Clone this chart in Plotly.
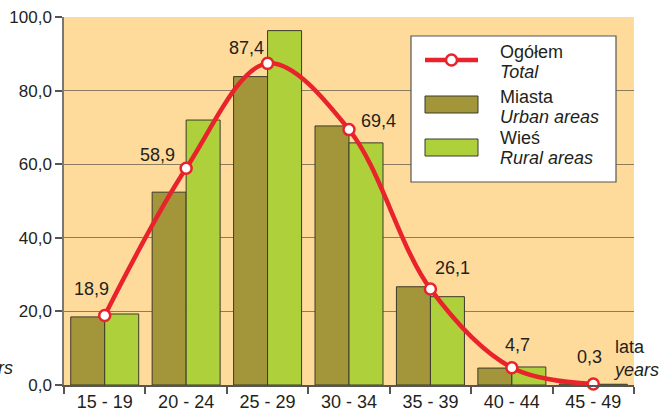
import plotly.graph_objects as go

categories = ["15 - 19", "20 - 24", "25 - 29", "30 - 34", "35 - 39", "40 - 44", "45 - 49"]
total = [18.9, 58.9, 87.4, 69.4, 26.1, 4.7, 0.3]
urban = [18.5, 52.4, 83.8, 70.4, 26.7, 4.6, 0.3]
rural = [19.3, 72.0, 96.3, 65.8, 24.0, 4.9, 0.2]
total_labels = ["18,9", "58,9", "87,4", "69,4", "26,1", "4,7", "0,3"]
y_ticks = [0, 20, 40, 60, 80, 100]
y_tick_labels = ["0,0", "20,0", "40,0", "60,0", "80,0", "100,0"]
legend_titles = ["Ogółem", "Miasta", "Wieś"]
legend_subtitles = ["Total", "Urban areas", "Rural areas"]

# label offsets (pixels) for the value labels of the total line
label_dx = [-13, -29, -21, 29, 22, 6, -4]
label_dy = [26, 13, 15, 9, 21, 23, 27]

FONT = "Liberation Sans, Arial, sans-serif"
RED = "#E8232B"
BAR_LINE = "#3b3a2c"
URBAN = "#A3963A"
RURAL = "#ADD03B"
TXT = "#231f20"

W, H = 659, 413
ML, MR, MT, MB = 64, 25, 17, 28
PW, PH = W - ML - MR, H - MT - MB


def px(x):
    return (x - ML) / PW


def py(y):
    return (H - MB - y) / PH


fig = go.Figure()
fig.add_trace(go.Bar(
    x=categories, y=urban, name="Miasta",
    marker=dict(color=URBAN, line=dict(color=BAR_LINE, width=1)),
))
fig.add_trace(go.Bar(
    x=categories, y=rural, name="Wieś",
    marker=dict(color=RURAL, line=dict(color=BAR_LINE, width=1)),
))
fig.add_trace(go.Scatter(
    x=categories, y=total, name="Ogółem",
    mode="lines+markers",
    line=dict(color=RED, width=4.5, shape="spline", smoothing=1.0),
    marker=dict(size=11, color="white", line=dict(color=RED, width=2.5)),
    cliponaxis=False,
))

annotations = []
for c, v, t, dx, dy in zip(categories, total, total_labels, label_dx, label_dy):
    annotations.append(dict(x=c, y=v, xref="x", yref="y", text=t, showarrow=False,
                            xshift=dx, yshift=dy, font=dict(size=18, color=TXT, family=FONT)))
annotations.append(dict(x=px(611), y=py(358), xref="paper", yref="paper", xanchor="left", yanchor="middle",
                        text="lata<br><i>years</i>", align="left", showarrow=False,
                        font=dict(size=18, color=TXT, family=FONT)))
annotations.append(dict(x=px(15), y=py(368), xref="paper", yref="paper", xanchor="right", yanchor="middle",
                        text="<i>years</i>", align="right", showarrow=False,
                        font=dict(size=18, color=TXT, family=FONT)))

# manual legend
shapes = [
    dict(type="rect", xref="paper", yref="paper", x0=px(411), x1=px(616), y0=py(182), y1=py(36),
         fillcolor="white", line=dict(color="#555555", width=1.2), layer="above"),
    dict(type="line", xref="paper", yref="paper", x0=px(425), x1=px(478), y0=py(60), y1=py(60),
         line=dict(color=RED, width=4.5), layer="above"),
    dict(type="circle", xref="paper", yref="paper", xsizemode="pixel", ysizemode="pixel",
         xanchor=px(451.5), yanchor=py(60), x0=-5.5, x1=5.5, y0=-5.5, y1=5.5,
         fillcolor="white", line=dict(color=RED, width=2.5), layer="above"),
    dict(type="rect", xref="paper", yref="paper", x0=px(425), x1=px(478), y0=py(113), y1=py(96),
         fillcolor=URBAN, line=dict(color=BAR_LINE, width=1), layer="above"),
    dict(type="rect", xref="paper", yref="paper", x0=px(425), x1=px(478), y0=py(156), y1=py(139),
         fillcolor=RURAL, line=dict(color=BAR_LINE, width=1), layer="above"),
]
title_y = [52, 97, 138]
for t, s, ty in zip(legend_titles, legend_subtitles, title_y):
    annotations.append(dict(x=px(498), y=py(ty), xref="paper", yref="paper", xanchor="left",
                            yanchor="middle", text=t, showarrow=False,
                            font=dict(size=18, color=TXT, family=FONT)))
    annotations.append(dict(x=px(498), y=py(ty + 20), xref="paper", yref="paper", xanchor="left",
                            yanchor="middle", text="<i>" + s + "</i>", showarrow=False,
                            font=dict(size=18, color=TXT, family=FONT)))

fig.update_layout(
    width=W, height=H,
    margin=dict(l=ML, r=MR, t=MT, b=MB, autoexpand=False),
    paper_bgcolor="white",
    plot_bgcolor="#FFDB9B",
    barmode="group", bargap=0.165, bargroupgap=0,
    font=dict(family=FONT, size=17, color=TXT),
    showlegend=False,
    annotations=annotations,
    shapes=shapes,
    xaxis=dict(
        type="category", showline=True, linecolor="#555555", linewidth=1.5,
        ticks="outside", tickson="boundaries", ticklen=7, tickcolor="#555555", tickwidth=1.5,
        showgrid=False, tickfont=dict(size=18), automargin=False,
    ),
    yaxis=dict(
        range=[0, 100], tickvals=y_ticks, ticktext=y_tick_labels,
        showline=True, linecolor="#777777", linewidth=1.5,
        ticks="outside", ticklen=7, tickcolor="#555555", tickwidth=1.5,
        showgrid=True, gridcolor="#8a7c5c", gridwidth=1, zeroline=False,
        tickfont=dict(size=17), automargin=False,
    ),
)

fig.write_html("out.html", config={"displayModeBar": False},
               post_script="document.body.style.margin='0';document.body.style.overflow='hidden';")
